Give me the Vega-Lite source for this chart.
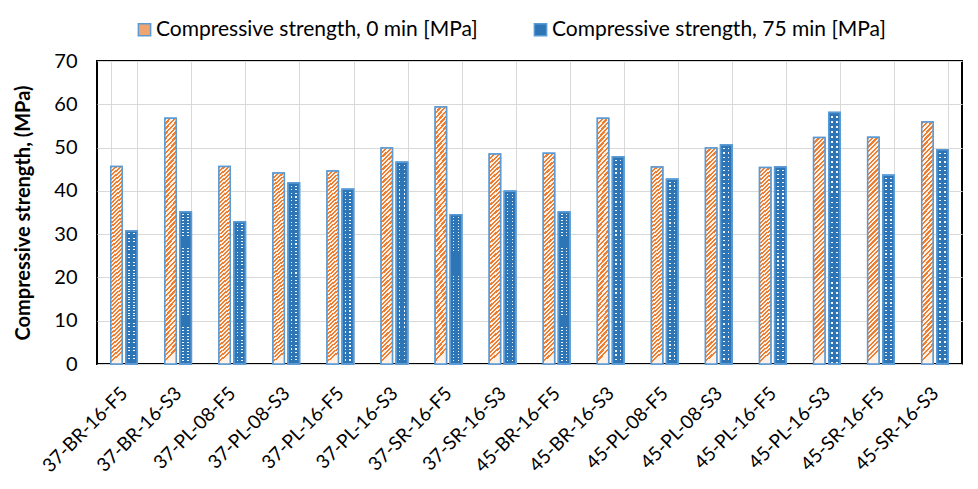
{
  "$schema": "https://vega.github.io/schema/vega-lite/v6.json",
  "width": 865,
  "height": 303,
  "autosize": {"type": "none"},
  "padding": {"left": 97, "top": 61, "right": 16, "bottom": 125},
  "background": "white",
  "config": {
    "view": {"stroke": "black", "strokeWidth": 2},
    "font": "Lato"
  },
  "data": {
    "values": [
      {"c": "37-BR-16-F5", "s": "Compressive strength, 0 min [MPa]", "v": 45.6},
      {"c": "37-BR-16-S3", "s": "Compressive strength, 0 min [MPa]", "v": 56.8},
      {"c": "37-PL-08-F5", "s": "Compressive strength, 0 min [MPa]", "v": 45.6},
      {"c": "37-PL-08-S3", "s": "Compressive strength, 0 min [MPa]", "v": 44.1},
      {"c": "37-PL-16-F5", "s": "Compressive strength, 0 min [MPa]", "v": 44.6},
      {"c": "37-PL-16-S3", "s": "Compressive strength, 0 min [MPa]", "v": 49.9},
      {"c": "37-SR-16-F5", "s": "Compressive strength, 0 min [MPa]", "v": 59.4},
      {"c": "37-SR-16-S3", "s": "Compressive strength, 0 min [MPa]", "v": 48.5},
      {"c": "45-BR-16-F5", "s": "Compressive strength, 0 min [MPa]", "v": 48.7},
      {"c": "45-BR-16-S3", "s": "Compressive strength, 0 min [MPa]", "v": 56.8},
      {"c": "45-PL-08-F5", "s": "Compressive strength, 0 min [MPa]", "v": 45.5},
      {"c": "45-PL-08-S3", "s": "Compressive strength, 0 min [MPa]", "v": 49.9},
      {"c": "45-PL-16-F5", "s": "Compressive strength, 0 min [MPa]", "v": 45.4},
      {"c": "45-PL-16-S3", "s": "Compressive strength, 0 min [MPa]", "v": 52.3},
      {"c": "45-SR-16-F5", "s": "Compressive strength, 0 min [MPa]", "v": 52.4},
      {"c": "45-SR-16-S3", "s": "Compressive strength, 0 min [MPa]", "v": 55.9},
      {"c": "37-BR-16-F5", "s": "Compressive strength, 75 min [MPa]", "v": 30.7},
      {"c": "37-BR-16-S3", "s": "Compressive strength, 75 min [MPa]", "v": 35.1},
      {"c": "37-PL-08-F5", "s": "Compressive strength, 75 min [MPa]", "v": 32.8},
      {"c": "37-PL-08-S3", "s": "Compressive strength, 75 min [MPa]", "v": 41.8},
      {"c": "37-PL-16-F5", "s": "Compressive strength, 75 min [MPa]", "v": 40.4},
      {"c": "37-PL-16-S3", "s": "Compressive strength, 75 min [MPa]", "v": 46.6},
      {"c": "37-SR-16-F5", "s": "Compressive strength, 75 min [MPa]", "v": 34.5},
      {"c": "37-SR-16-S3", "s": "Compressive strength, 75 min [MPa]", "v": 39.9},
      {"c": "45-BR-16-F5", "s": "Compressive strength, 75 min [MPa]", "v": 35.1},
      {"c": "45-BR-16-S3", "s": "Compressive strength, 75 min [MPa]", "v": 47.8},
      {"c": "45-PL-08-F5", "s": "Compressive strength, 75 min [MPa]", "v": 42.7},
      {"c": "45-PL-08-S3", "s": "Compressive strength, 75 min [MPa]", "v": 50.6},
      {"c": "45-PL-16-F5", "s": "Compressive strength, 75 min [MPa]", "v": 45.5},
      {"c": "45-PL-16-S3", "s": "Compressive strength, 75 min [MPa]", "v": 58.1},
      {"c": "45-SR-16-F5", "s": "Compressive strength, 75 min [MPa]", "v": 43.6},
      {"c": "45-SR-16-S3", "s": "Compressive strength, 75 min [MPa]", "v": 49.5}
    ]
  },
  "encoding": {
    "x": {
      "field": "c",
      "type": "nominal",
      "sort": null,
      "scale": {"paddingInner": 0.51, "paddingOuter": 0.255},
      "axis": {
        "title": null,
        "labelAngle": -45,
        "labelAlign": "right",
        "labelBaseline": "middle",
        "labelFontSize": 19,
        "labelColor": "black",
        "labelPadding": 26,
        "ticks": false,
        "tickSize": 0,
        "domain": false,
        "grid": true,
        "tickBand": "extent",
        "gridColor": "#D9D9D9",
        "gridWidth": 1
      }
    },
    "xOffset": {"field": "s", "type": "nominal", "scale": {"paddingInner": 0.25}},
    "y": {
      "field": "v",
      "type": "quantitative",
      "scale": {"domain": [0, 70]},
      "axis": {
        "values": [0, 10, 20, 30, 40, 50, 60, 70],
        "title": "Compressive strength, (MPa)",
        "titleFontSize": 20,
        "titleFontWeight": "bold",
        "titleColor": "black",
        "titlePadding": 20,
        "labelFontSize": 20,
        "labelColor": "black",
        "labelPadding": 20,
        "ticks": false,
        "tickSize": 0,
        "domain": false,
        "gridColor": "#D9D9D9",
        "gridWidth": 1
      }
    }
  },
  "layer": [
    {
      "mark": {"type": "bar", "stroke": "#5B9BD5", "strokeWidth": 1.5},
      "encoding": {
        "color": {
          "field": "s",
          "type": "nominal",
          "scale": {
            "domain": ["Compressive strength, 0 min [MPa]", "Compressive strength, 75 min [MPa]"],
            "range": ["#F0A470", "#2E75B6"]
          },
          "legend": {
            "orient": "none",
            "legendX": 37,
            "legendY": -42,
            "direction": "horizontal",
            "title": null,
            "symbolType": "square",
            "symbolSize": 150,
            "symbolStrokeColor": "#5B9BD5",
            "symbolStrokeWidth": 1.5,
            "labelFontSize": 21,
            "labelFont": "Lato",
            "labelColor": "black",
            "labelOffset": 1,
            "labelLimit": 400,
            "columnPadding": 52
          }
        }
      }
    },
    {
      "transform": [{"filter": {"field": "s", "equal": "Compressive strength, 0 min [MPa]"}}],
      "mark": {
        "type": "bar",
        "stroke": "#5B9BD5",
        "strokeWidth": 1.5,
        "fill": {"gradient": "linear", "x1": 0, "y1": 0, "x2": 0.05, "y2": 1, "stops": [
          {"offset":0,"color":"#ED7D31"},{"offset":0.01,"color":"#ED7D31"},{"offset":0.01,"color":"#FFF1E6"},{"offset":0.02,"color":"#FFF1E6"},
          {"offset":0.02,"color":"#ED7D31"},{"offset":0.03,"color":"#ED7D31"},{"offset":0.03,"color":"#FFF1E6"},{"offset":0.04,"color":"#FFF1E6"},
          {"offset":0.04,"color":"#ED7D31"},{"offset":0.05,"color":"#ED7D31"},{"offset":0.05,"color":"#FFF1E6"},{"offset":0.06,"color":"#FFF1E6"},
          {"offset":0.06,"color":"#ED7D31"},{"offset":0.07,"color":"#ED7D31"},{"offset":0.07,"color":"#FFF1E6"},{"offset":0.08,"color":"#FFF1E6"},
          {"offset":0.08,"color":"#ED7D31"},{"offset":0.09,"color":"#ED7D31"},{"offset":0.09,"color":"#FFF1E6"},{"offset":0.10,"color":"#FFF1E6"},
          {"offset":0.10,"color":"#ED7D31"},{"offset":0.11,"color":"#ED7D31"},{"offset":0.11,"color":"#FFF1E6"},{"offset":0.12,"color":"#FFF1E6"},
          {"offset":0.12,"color":"#ED7D31"},{"offset":0.13,"color":"#ED7D31"},{"offset":0.13,"color":"#FFF1E6"},{"offset":0.14,"color":"#FFF1E6"},
          {"offset":0.14,"color":"#ED7D31"},{"offset":0.15,"color":"#ED7D31"},{"offset":0.15,"color":"#FFF1E6"},{"offset":0.16,"color":"#FFF1E6"},
          {"offset":0.16,"color":"#ED7D31"},{"offset":0.17,"color":"#ED7D31"},{"offset":0.17,"color":"#FFF1E6"},{"offset":0.18,"color":"#FFF1E6"},
          {"offset":0.18,"color":"#ED7D31"},{"offset":0.19,"color":"#ED7D31"},{"offset":0.19,"color":"#FFF1E6"},{"offset":0.20,"color":"#FFF1E6"},
          {"offset":0.20,"color":"#ED7D31"},{"offset":0.21,"color":"#ED7D31"},{"offset":0.21,"color":"#FFF1E6"},{"offset":0.22,"color":"#FFF1E6"},
          {"offset":0.22,"color":"#ED7D31"},{"offset":0.23,"color":"#ED7D31"},{"offset":0.23,"color":"#FFF1E6"},{"offset":0.24,"color":"#FFF1E6"},
          {"offset":0.24,"color":"#ED7D31"},{"offset":0.25,"color":"#ED7D31"},{"offset":0.25,"color":"#FFF1E6"},{"offset":0.26,"color":"#FFF1E6"},
          {"offset":0.26,"color":"#ED7D31"},{"offset":0.27,"color":"#ED7D31"},{"offset":0.27,"color":"#FFF1E6"},{"offset":0.28,"color":"#FFF1E6"},
          {"offset":0.28,"color":"#ED7D31"},{"offset":0.29,"color":"#ED7D31"},{"offset":0.29,"color":"#FFF1E6"},{"offset":0.30,"color":"#FFF1E6"},
          {"offset":0.30,"color":"#ED7D31"},{"offset":0.31,"color":"#ED7D31"},{"offset":0.31,"color":"#FFF1E6"},{"offset":0.32,"color":"#FFF1E6"},
          {"offset":0.32,"color":"#ED7D31"},{"offset":0.33,"color":"#ED7D31"},{"offset":0.33,"color":"#FFF1E6"},{"offset":0.34,"color":"#FFF1E6"},
          {"offset":0.34,"color":"#ED7D31"},{"offset":0.35,"color":"#ED7D31"},{"offset":0.35,"color":"#FFF1E6"},{"offset":0.36,"color":"#FFF1E6"},
          {"offset":0.36,"color":"#ED7D31"},{"offset":0.37,"color":"#ED7D31"},{"offset":0.37,"color":"#FFF1E6"},{"offset":0.38,"color":"#FFF1E6"},
          {"offset":0.38,"color":"#ED7D31"},{"offset":0.39,"color":"#ED7D31"},{"offset":0.39,"color":"#FFF1E6"},{"offset":0.40,"color":"#FFF1E6"},
          {"offset":0.40,"color":"#ED7D31"},{"offset":0.41,"color":"#ED7D31"},{"offset":0.41,"color":"#FFF1E6"},{"offset":0.42,"color":"#FFF1E6"},
          {"offset":0.42,"color":"#ED7D31"},{"offset":0.43,"color":"#ED7D31"},{"offset":0.43,"color":"#FFF1E6"},{"offset":0.44,"color":"#FFF1E6"},
          {"offset":0.44,"color":"#ED7D31"},{"offset":0.45,"color":"#ED7D31"},{"offset":0.45,"color":"#FFF1E6"},{"offset":0.46,"color":"#FFF1E6"},
          {"offset":0.46,"color":"#ED7D31"},{"offset":0.47,"color":"#ED7D31"},{"offset":0.47,"color":"#FFF1E6"},{"offset":0.48,"color":"#FFF1E6"},
          {"offset":0.48,"color":"#ED7D31"},{"offset":0.49,"color":"#ED7D31"},{"offset":0.49,"color":"#FFF1E6"},{"offset":0.50,"color":"#FFF1E6"},
          {"offset":0.50,"color":"#ED7D31"},{"offset":0.51,"color":"#ED7D31"},{"offset":0.51,"color":"#FFF1E6"},{"offset":0.52,"color":"#FFF1E6"},
          {"offset":0.52,"color":"#ED7D31"},{"offset":0.53,"color":"#ED7D31"},{"offset":0.53,"color":"#FFF1E6"},{"offset":0.54,"color":"#FFF1E6"},
          {"offset":0.54,"color":"#ED7D31"},{"offset":0.55,"color":"#ED7D31"},{"offset":0.55,"color":"#FFF1E6"},{"offset":0.56,"color":"#FFF1E6"},
          {"offset":0.56,"color":"#ED7D31"},{"offset":0.57,"color":"#ED7D31"},{"offset":0.57,"color":"#FFF1E6"},{"offset":0.58,"color":"#FFF1E6"},
          {"offset":0.58,"color":"#ED7D31"},{"offset":0.59,"color":"#ED7D31"},{"offset":0.59,"color":"#FFF1E6"},{"offset":0.60,"color":"#FFF1E6"},
          {"offset":0.60,"color":"#ED7D31"},{"offset":0.61,"color":"#ED7D31"},{"offset":0.61,"color":"#FFF1E6"},{"offset":0.62,"color":"#FFF1E6"},
          {"offset":0.62,"color":"#ED7D31"},{"offset":0.63,"color":"#ED7D31"},{"offset":0.63,"color":"#FFF1E6"},{"offset":0.64,"color":"#FFF1E6"},
          {"offset":0.64,"color":"#ED7D31"},{"offset":0.65,"color":"#ED7D31"},{"offset":0.65,"color":"#FFF1E6"},{"offset":0.66,"color":"#FFF1E6"},
          {"offset":0.66,"color":"#ED7D31"},{"offset":0.67,"color":"#ED7D31"},{"offset":0.67,"color":"#FFF1E6"},{"offset":0.68,"color":"#FFF1E6"},
          {"offset":0.68,"color":"#ED7D31"},{"offset":0.69,"color":"#ED7D31"},{"offset":0.69,"color":"#FFF1E6"},{"offset":0.70,"color":"#FFF1E6"},
          {"offset":0.70,"color":"#ED7D31"},{"offset":0.71,"color":"#ED7D31"},{"offset":0.71,"color":"#FFF1E6"},{"offset":0.72,"color":"#FFF1E6"},
          {"offset":0.72,"color":"#ED7D31"},{"offset":0.73,"color":"#ED7D31"},{"offset":0.73,"color":"#FFF1E6"},{"offset":0.74,"color":"#FFF1E6"},
          {"offset":0.74,"color":"#ED7D31"},{"offset":0.75,"color":"#ED7D31"},{"offset":0.75,"color":"#FFF1E6"},{"offset":0.76,"color":"#FFF1E6"},
          {"offset":0.76,"color":"#ED7D31"},{"offset":0.77,"color":"#ED7D31"},{"offset":0.77,"color":"#FFF1E6"},{"offset":0.78,"color":"#FFF1E6"},
          {"offset":0.78,"color":"#ED7D31"},{"offset":0.79,"color":"#ED7D31"},{"offset":0.79,"color":"#FFF1E6"},{"offset":0.80,"color":"#FFF1E6"},
          {"offset":0.80,"color":"#ED7D31"},{"offset":0.81,"color":"#ED7D31"},{"offset":0.81,"color":"#FFF1E6"},{"offset":0.82,"color":"#FFF1E6"},
          {"offset":0.82,"color":"#ED7D31"},{"offset":0.83,"color":"#ED7D31"},{"offset":0.83,"color":"#FFF1E6"},{"offset":0.84,"color":"#FFF1E6"},
          {"offset":0.84,"color":"#ED7D31"},{"offset":0.85,"color":"#ED7D31"},{"offset":0.85,"color":"#FFF1E6"},{"offset":0.86,"color":"#FFF1E6"},
          {"offset":0.86,"color":"#ED7D31"},{"offset":0.87,"color":"#ED7D31"},{"offset":0.87,"color":"#FFF1E6"},{"offset":0.88,"color":"#FFF1E6"},
          {"offset":0.88,"color":"#ED7D31"},{"offset":0.89,"color":"#ED7D31"},{"offset":0.89,"color":"#FFF1E6"},{"offset":0.90,"color":"#FFF1E6"},
          {"offset":0.90,"color":"#ED7D31"},{"offset":0.91,"color":"#ED7D31"},{"offset":0.91,"color":"#FFF1E6"},{"offset":0.92,"color":"#FFF1E6"},
          {"offset":0.92,"color":"#ED7D31"},{"offset":0.93,"color":"#ED7D31"},{"offset":0.93,"color":"#FFF1E6"},{"offset":0.94,"color":"#FFF1E6"},
          {"offset":0.94,"color":"#ED7D31"},{"offset":0.95,"color":"#ED7D31"},{"offset":0.95,"color":"#FFF1E6"},{"offset":0.96,"color":"#FFF1E6"},
          {"offset":0.96,"color":"#ED7D31"},{"offset":0.97,"color":"#ED7D31"},{"offset":0.97,"color":"#FFF1E6"},{"offset":0.98,"color":"#FFF1E6"},
          {"offset":0.98,"color":"#ED7D31"},{"offset":0.99,"color":"#ED7D31"},{"offset":0.99,"color":"#FFF1E6"},{"offset":1,"color":"#FFF1E6"}
        ]}
      }
    },
    {
      "transform": [{"filter": {"field": "s", "equal": "Compressive strength, 75 min [MPa]"}}],
      "mark": {
        "type": "bar",
        "stroke": "#5B9BD5",
        "strokeWidth": 1.5,
        "fill": {"gradient": "linear", "x1": 0, "y1": 0, "x2": 1, "y2": 0, "stops": [
          {"offset":0,"color":"#2E75B6"},{"offset":0.22,"color":"#2E75B6"},{"offset":0.22,"color":"#F0F6FC"},{"offset":0.36,"color":"#F0F6FC"},
          {"offset":0.36,"color":"#2E75B6"},{"offset":0.64,"color":"#2E75B6"},{"offset":0.64,"color":"#F0F6FC"},{"offset":0.78,"color":"#F0F6FC"},
          {"offset":0.78,"color":"#2E75B6"},{"offset":1,"color":"#2E75B6"}
        ]}
      }
    },
    {
      "transform": [{"filter": {"field": "s", "equal": "Compressive strength, 75 min [MPa]"}}],
      "mark": {
        "type": "bar",
        "stroke": "#5B9BD5",
        "strokeWidth": 1.5,
        "fill": {"gradient": "linear", "x1": 0, "y1": 0, "x2": 0, "y2": 1, "stops": [
          {"offset":0,"color":"#2E75B6"},{"offset":0.014,"color":"#2E75B6"},{"offset":0.014,"color":"rgba(255,255,255,0)"},{"offset":0.02,"color":"rgba(255,255,255,0)"},
          {"offset":0.02,"color":"#2E75B6"},{"offset":0.034,"color":"#2E75B6"},{"offset":0.034,"color":"rgba(255,255,255,0)"},{"offset":0.04,"color":"rgba(255,255,255,0)"},
          {"offset":0.04,"color":"#2E75B6"},{"offset":0.054,"color":"#2E75B6"},{"offset":0.054,"color":"rgba(255,255,255,0)"},{"offset":0.06,"color":"rgba(255,255,255,0)"},
          {"offset":0.06,"color":"#2E75B6"},{"offset":0.074,"color":"#2E75B6"},{"offset":0.074,"color":"rgba(255,255,255,0)"},{"offset":0.08,"color":"rgba(255,255,255,0)"},
          {"offset":0.08,"color":"#2E75B6"},{"offset":0.094,"color":"#2E75B6"},{"offset":0.094,"color":"rgba(255,255,255,0)"},{"offset":0.10,"color":"rgba(255,255,255,0)"},
          {"offset":0.10,"color":"#2E75B6"},{"offset":0.114,"color":"#2E75B6"},{"offset":0.114,"color":"rgba(255,255,255,0)"},{"offset":0.12,"color":"rgba(255,255,255,0)"},
          {"offset":0.12,"color":"#2E75B6"},{"offset":0.134,"color":"#2E75B6"},{"offset":0.134,"color":"rgba(255,255,255,0)"},{"offset":0.14,"color":"rgba(255,255,255,0)"},
          {"offset":0.14,"color":"#2E75B6"},{"offset":0.154,"color":"#2E75B6"},{"offset":0.154,"color":"rgba(255,255,255,0)"},{"offset":0.16,"color":"rgba(255,255,255,0)"},
          {"offset":0.16,"color":"#2E75B6"},{"offset":0.174,"color":"#2E75B6"},{"offset":0.174,"color":"rgba(255,255,255,0)"},{"offset":0.18,"color":"rgba(255,255,255,0)"},
          {"offset":0.18,"color":"#2E75B6"},{"offset":0.194,"color":"#2E75B6"},{"offset":0.194,"color":"rgba(255,255,255,0)"},{"offset":0.20,"color":"rgba(255,255,255,0)"},
          {"offset":0.20,"color":"#2E75B6"},{"offset":0.214,"color":"#2E75B6"},{"offset":0.214,"color":"rgba(255,255,255,0)"},{"offset":0.22,"color":"rgba(255,255,255,0)"},
          {"offset":0.22,"color":"#2E75B6"},{"offset":0.234,"color":"#2E75B6"},{"offset":0.234,"color":"rgba(255,255,255,0)"},{"offset":0.24,"color":"rgba(255,255,255,0)"},
          {"offset":0.24,"color":"#2E75B6"},{"offset":0.254,"color":"#2E75B6"},{"offset":0.254,"color":"rgba(255,255,255,0)"},{"offset":0.26,"color":"rgba(255,255,255,0)"},
          {"offset":0.26,"color":"#2E75B6"},{"offset":0.274,"color":"#2E75B6"},{"offset":0.274,"color":"rgba(255,255,255,0)"},{"offset":0.28,"color":"rgba(255,255,255,0)"},
          {"offset":0.28,"color":"#2E75B6"},{"offset":0.294,"color":"#2E75B6"},{"offset":0.294,"color":"rgba(255,255,255,0)"},{"offset":0.30,"color":"rgba(255,255,255,0)"},
          {"offset":0.30,"color":"#2E75B6"},{"offset":0.314,"color":"#2E75B6"},{"offset":0.314,"color":"rgba(255,255,255,0)"},{"offset":0.32,"color":"rgba(255,255,255,0)"},
          {"offset":0.32,"color":"#2E75B6"},{"offset":0.334,"color":"#2E75B6"},{"offset":0.334,"color":"rgba(255,255,255,0)"},{"offset":0.34,"color":"rgba(255,255,255,0)"},
          {"offset":0.34,"color":"#2E75B6"},{"offset":0.354,"color":"#2E75B6"},{"offset":0.354,"color":"rgba(255,255,255,0)"},{"offset":0.36,"color":"rgba(255,255,255,0)"},
          {"offset":0.36,"color":"#2E75B6"},{"offset":0.374,"color":"#2E75B6"},{"offset":0.374,"color":"rgba(255,255,255,0)"},{"offset":0.38,"color":"rgba(255,255,255,0)"},
          {"offset":0.38,"color":"#2E75B6"},{"offset":0.394,"color":"#2E75B6"},{"offset":0.394,"color":"rgba(255,255,255,0)"},{"offset":0.40,"color":"rgba(255,255,255,0)"},
          {"offset":0.40,"color":"#2E75B6"},{"offset":0.414,"color":"#2E75B6"},{"offset":0.414,"color":"rgba(255,255,255,0)"},{"offset":0.42,"color":"rgba(255,255,255,0)"},
          {"offset":0.42,"color":"#2E75B6"},{"offset":0.434,"color":"#2E75B6"},{"offset":0.434,"color":"rgba(255,255,255,0)"},{"offset":0.44,"color":"rgba(255,255,255,0)"},
          {"offset":0.44,"color":"#2E75B6"},{"offset":0.454,"color":"#2E75B6"},{"offset":0.454,"color":"rgba(255,255,255,0)"},{"offset":0.46,"color":"rgba(255,255,255,0)"},
          {"offset":0.46,"color":"#2E75B6"},{"offset":0.474,"color":"#2E75B6"},{"offset":0.474,"color":"rgba(255,255,255,0)"},{"offset":0.48,"color":"rgba(255,255,255,0)"},
          {"offset":0.48,"color":"#2E75B6"},{"offset":0.494,"color":"#2E75B6"},{"offset":0.494,"color":"rgba(255,255,255,0)"},{"offset":0.50,"color":"rgba(255,255,255,0)"},
          {"offset":0.50,"color":"#2E75B6"},{"offset":0.514,"color":"#2E75B6"},{"offset":0.514,"color":"rgba(255,255,255,0)"},{"offset":0.52,"color":"rgba(255,255,255,0)"},
          {"offset":0.52,"color":"#2E75B6"},{"offset":0.534,"color":"#2E75B6"},{"offset":0.534,"color":"rgba(255,255,255,0)"},{"offset":0.54,"color":"rgba(255,255,255,0)"},
          {"offset":0.54,"color":"#2E75B6"},{"offset":0.554,"color":"#2E75B6"},{"offset":0.554,"color":"rgba(255,255,255,0)"},{"offset":0.56,"color":"rgba(255,255,255,0)"},
          {"offset":0.56,"color":"#2E75B6"},{"offset":0.574,"color":"#2E75B6"},{"offset":0.574,"color":"rgba(255,255,255,0)"},{"offset":0.58,"color":"rgba(255,255,255,0)"},
          {"offset":0.58,"color":"#2E75B6"},{"offset":0.594,"color":"#2E75B6"},{"offset":0.594,"color":"rgba(255,255,255,0)"},{"offset":0.60,"color":"rgba(255,255,255,0)"},
          {"offset":0.60,"color":"#2E75B6"},{"offset":0.614,"color":"#2E75B6"},{"offset":0.614,"color":"rgba(255,255,255,0)"},{"offset":0.62,"color":"rgba(255,255,255,0)"},
          {"offset":0.62,"color":"#2E75B6"},{"offset":0.634,"color":"#2E75B6"},{"offset":0.634,"color":"rgba(255,255,255,0)"},{"offset":0.64,"color":"rgba(255,255,255,0)"},
          {"offset":0.64,"color":"#2E75B6"},{"offset":0.654,"color":"#2E75B6"},{"offset":0.654,"color":"rgba(255,255,255,0)"},{"offset":0.66,"color":"rgba(255,255,255,0)"},
          {"offset":0.66,"color":"#2E75B6"},{"offset":0.674,"color":"#2E75B6"},{"offset":0.674,"color":"rgba(255,255,255,0)"},{"offset":0.68,"color":"rgba(255,255,255,0)"},
          {"offset":0.68,"color":"#2E75B6"},{"offset":0.694,"color":"#2E75B6"},{"offset":0.694,"color":"rgba(255,255,255,0)"},{"offset":0.70,"color":"rgba(255,255,255,0)"},
          {"offset":0.70,"color":"#2E75B6"},{"offset":0.714,"color":"#2E75B6"},{"offset":0.714,"color":"rgba(255,255,255,0)"},{"offset":0.72,"color":"rgba(255,255,255,0)"},
          {"offset":0.72,"color":"#2E75B6"},{"offset":0.734,"color":"#2E75B6"},{"offset":0.734,"color":"rgba(255,255,255,0)"},{"offset":0.74,"color":"rgba(255,255,255,0)"},
          {"offset":0.74,"color":"#2E75B6"},{"offset":0.754,"color":"#2E75B6"},{"offset":0.754,"color":"rgba(255,255,255,0)"},{"offset":0.76,"color":"rgba(255,255,255,0)"},
          {"offset":0.76,"color":"#2E75B6"},{"offset":0.774,"color":"#2E75B6"},{"offset":0.774,"color":"rgba(255,255,255,0)"},{"offset":0.78,"color":"rgba(255,255,255,0)"},
          {"offset":0.78,"color":"#2E75B6"},{"offset":0.794,"color":"#2E75B6"},{"offset":0.794,"color":"rgba(255,255,255,0)"},{"offset":0.80,"color":"rgba(255,255,255,0)"},
          {"offset":0.80,"color":"#2E75B6"},{"offset":0.814,"color":"#2E75B6"},{"offset":0.814,"color":"rgba(255,255,255,0)"},{"offset":0.82,"color":"rgba(255,255,255,0)"},
          {"offset":0.82,"color":"#2E75B6"},{"offset":0.834,"color":"#2E75B6"},{"offset":0.834,"color":"rgba(255,255,255,0)"},{"offset":0.84,"color":"rgba(255,255,255,0)"},
          {"offset":0.84,"color":"#2E75B6"},{"offset":0.854,"color":"#2E75B6"},{"offset":0.854,"color":"rgba(255,255,255,0)"},{"offset":0.86,"color":"rgba(255,255,255,0)"},
          {"offset":0.86,"color":"#2E75B6"},{"offset":0.874,"color":"#2E75B6"},{"offset":0.874,"color":"rgba(255,255,255,0)"},{"offset":0.88,"color":"rgba(255,255,255,0)"},
          {"offset":0.88,"color":"#2E75B6"},{"offset":0.894,"color":"#2E75B6"},{"offset":0.894,"color":"rgba(255,255,255,0)"},{"offset":0.90,"color":"rgba(255,255,255,0)"},
          {"offset":0.90,"color":"#2E75B6"},{"offset":0.914,"color":"#2E75B6"},{"offset":0.914,"color":"rgba(255,255,255,0)"},{"offset":0.92,"color":"rgba(255,255,255,0)"},
          {"offset":0.92,"color":"#2E75B6"},{"offset":0.934,"color":"#2E75B6"},{"offset":0.934,"color":"rgba(255,255,255,0)"},{"offset":0.94,"color":"rgba(255,255,255,0)"},
          {"offset":0.94,"color":"#2E75B6"},{"offset":0.954,"color":"#2E75B6"},{"offset":0.954,"color":"rgba(255,255,255,0)"},{"offset":0.96,"color":"rgba(255,255,255,0)"},
          {"offset":0.96,"color":"#2E75B6"},{"offset":0.974,"color":"#2E75B6"},{"offset":0.974,"color":"rgba(255,255,255,0)"},{"offset":0.98,"color":"rgba(255,255,255,0)"},
          {"offset":0.98,"color":"#2E75B6"},{"offset":0.994,"color":"#2E75B6"},{"offset":0.994,"color":"rgba(255,255,255,0)"},{"offset":1,"color":"rgba(255,255,255,0)"}
        ]}
      }
    }
  ]
}
